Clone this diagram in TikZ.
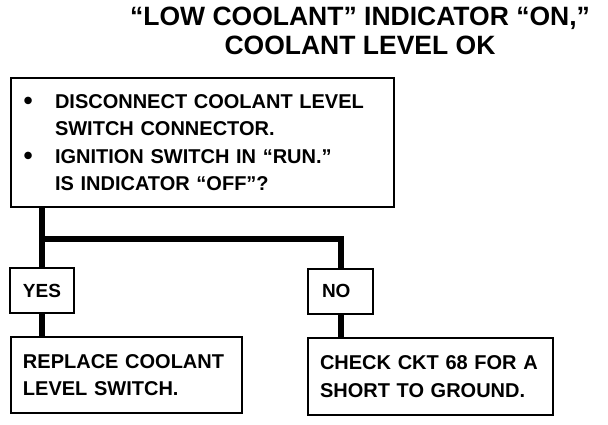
\documentclass[tikz,border=0pt]{standalone}
\usepackage{fontspec}
\setmainfont{Liberation Sans}
\usetikzlibrary{positioning}
\newcommand\bigdot{\makebox[31.5pt][l]{\raisebox{-1.6pt}{\fontsize{26}{26}\selectfont\textbullet}}}

\begin{document}
\begin{tikzpicture}[x=1pt, y=-1pt,
        box/.style={draw, line width=2pt, align=left, inner ysep=0pt,
          font=\bfseries\fontsize{20}{27.5}\selectfont},
        answer/.style={box, text width=38pt, inner xsep=13pt, minimum height=45pt,
          font=\bfseries\fontsize{19}{22}\selectfont},
        wire/.style={line width=6pt, line join=miter}
        ]
        \useasboundingbox (0,0) rectangle (608,424);
        \node [name=title, align=center, font=\bfseries\fontsize{26.5}{29}\selectfont]
          at (360,31) {“LOW COOLANT” INDICATOR “ON,”\\COOLANT LEVEL OK};
        \node [name=check, box, text width=358pt, inner xsep=12.5pt, minimum height=129pt]
          at (202.5,142.5)
          {\bigdot DISCONNECT COOLANT LEVEL\\
           \hspace*{31.5pt}SWITCH CONNECTOR.\\
           \bigdot IGNITION SWITCH IN “RUN.”\\
           \hspace*{31.5pt}IS INDICATOR “OFF”?};
        \node [name=yes, answer] at (42,290.5) {YES};
        \node [name=no, answer, text width=37pt, inner xsep=14pt] at (340.5,291) {NO};
        \node [name=replace, box, text width=207pt, inner xsep=12pt, minimum height=76pt]
          at (126.5,375) {REPLACE COOLANT\\LEVEL SWITCH.};
        \node [name=shortcheck, box, text width=221pt, inner xsep=12pt, minimum height=77pt]
          at (430.5,376.5) {CHECK CKT 68 FOR A\\SHORT TO GROUND.};
        \coordinate (split) at (42,239);
        \draw [wire] (check.south -| yes.north) -- (yes.north);
        \draw [wire] (split) -| (no.north);
        \draw [wire] (yes.south) -- (yes.south |- replace.north);
        \draw [wire] (no.south) -- (no.south |- shortcheck.north);
\end{tikzpicture}
\end{document}
